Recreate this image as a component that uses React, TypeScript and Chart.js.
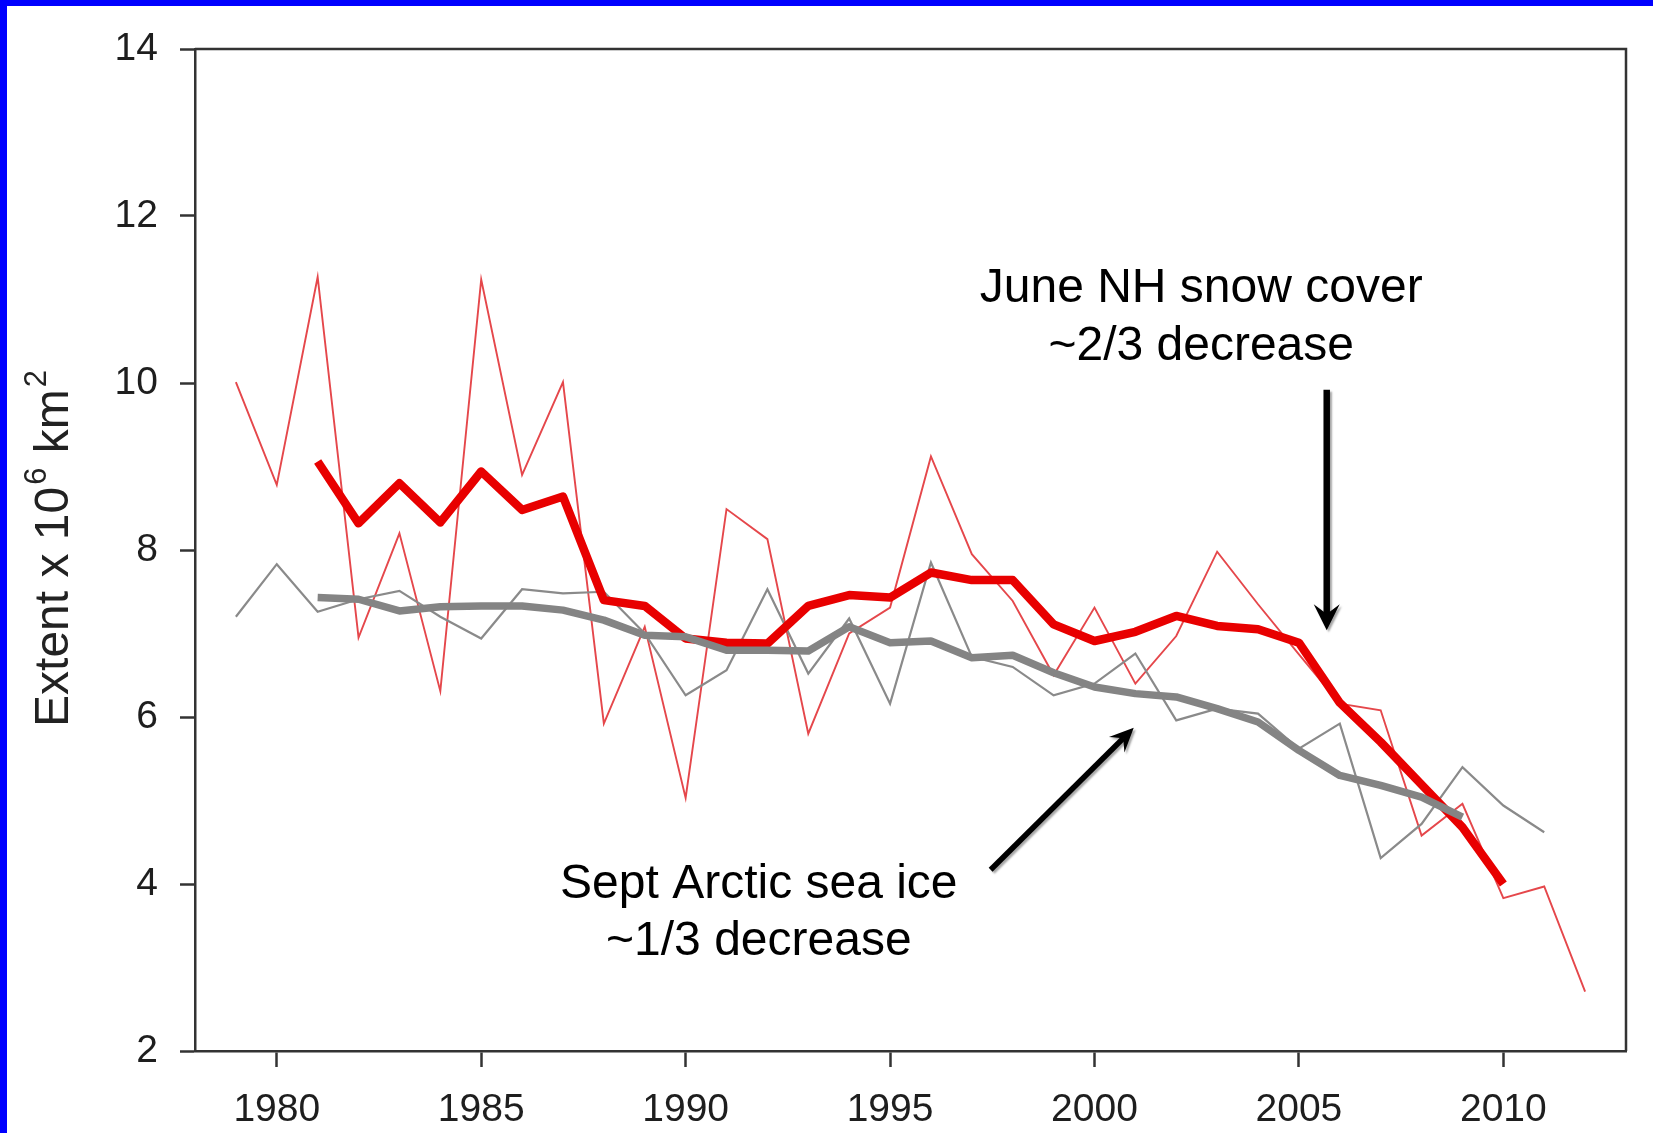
import React, { useEffect, useRef } from "react";
import { Chart, registerables } from "chart.js";

Chart.register(...registerables);

// ---- Data ----
const xTicks = [1980, 1985, 1990, 1995, 2000, 2005, 2010];
const yTicks = [2, 4, 6, 8, 10, 12, 14];

// June NH snow cover (annual, thin red)
const snowYears = [1979, 1980, 1981, 1982, 1983, 1984, 1985, 1986, 1987, 1988, 1989, 1990, 1991, 1992, 1993, 1994, 1995, 1996, 1997, 1998, 1999, 2000, 2001, 2002, 2003, 2004, 2005, 2006, 2007, 2008, 2009, 2010, 2011, 2012];
const snowValues = [10.01, 8.78, 11.27, 6.95, 8.2, 6.31, 11.24, 8.9, 10.01, 5.92, 7.08, 5.03, 8.49, 8.13, 5.8, 7.0, 7.31, 9.12, 7.95, 7.39, 6.5, 7.31, 6.4, 6.97, 7.98, 7.35, 6.75, 6.16, 6.08, 4.58, 4.96, 3.83, 3.97, 2.71];

// June NH snow cover (running mean, thick red)
const snowMeanYears = [1981, 1982, 1983, 1984, 1985, 1986, 1987, 1988, 1989, 1990, 1991, 1992, 1993, 1994, 1995, 1996, 1997, 1998, 1999, 2000, 2001, 2002, 2003, 2004, 2005, 2006, 2007, 2008, 2009, 2010];
const snowMeanValues = [9.06, 8.32, 8.8, 8.33, 8.94, 8.48, 8.64, 7.4, 7.33, 6.94, 6.89, 6.88, 7.33, 7.46, 7.43, 7.73, 7.64, 7.64, 7.11, 6.91, 7.02, 7.21, 7.09, 7.05, 6.89, 6.17, 5.7, 5.19, 4.68, 4.0];

// Sept Arctic sea ice (annual, thin gray)
const iceYears = [1979, 1980, 1981, 1982, 1983, 1984, 1985, 1986, 1987, 1988, 1989, 1990, 1991, 1992, 1993, 1994, 1995, 1996, 1997, 1998, 1999, 2000, 2001, 2002, 2003, 2004, 2005, 2006, 2007, 2008, 2009, 2010, 2011];
const iceValues = [7.2, 7.83, 7.26, 7.41, 7.51, 7.2, 6.94, 7.53, 7.48, 7.5, 7.0, 6.26, 6.56, 7.53, 6.52, 7.18, 6.16, 7.85, 6.72, 6.6, 6.26, 6.4, 6.76, 5.96, 6.1, 6.04, 5.62, 5.92, 4.31, 4.72, 5.4, 4.94, 4.62];

// Sept Arctic sea ice (running mean, thick gray)
const iceMeanYears = [1981, 1982, 1983, 1984, 1985, 1986, 1987, 1988, 1989, 1990, 1991, 1992, 1993, 1994, 1995, 1996, 1997, 1998, 1999, 2000, 2001, 2002, 2003, 2004, 2005, 2006, 2007, 2008, 2009];
const iceMeanValues = [7.43, 7.41, 7.27, 7.32, 7.33, 7.33, 7.28, 7.16, 6.98, 6.96, 6.8, 6.8, 6.79, 7.08, 6.89, 6.91, 6.71, 6.74, 6.53, 6.36, 6.28, 6.24, 6.1, 5.94, 5.6, 5.3, 5.18, 5.04, 4.8];

// Annotations (in data coordinates: year, value)
const snowLabelLines = ["June NH snow cover", "~2/3 decrease"];
const snowLabelPos = { x: 2002.61, y: [10.97, 10.27] };
const snowArrow = { x1: 2005.68, y1: 9.92, x2: 2005.68, y2: 7.04 };
const iceLabelLines = ["Sept Arctic sea ice", "~1/3 decrease"];
const iceLabelPos = { x: 1991.79, y: [3.83, 3.15] };
const iceArrow = { x1: 1997.46, y1: 4.17, x2: 2000.96, y2: 5.87 };

const FONT = '"Liberation Sans", Arial, Helvetica, sans-serif';

function toXY(xs: number[], ys: number[]) {
  return xs.map((x, i) => ({ x, y: ys[i] }));
}

function drawArrow(ctx: CanvasRenderingContext2D, x1: number, y1: number, x2: number, y2: number, lw: number, headLen: number, headW: number) {
  const ang = Math.atan2(y2 - y1, x2 - x1);
  ctx.save();
  ctx.shadowColor = "rgba(0,0,0,0.35)";
  ctx.shadowOffsetX = 2;
  ctx.shadowOffsetY = 2;
  ctx.shadowBlur = 2;
  ctx.strokeStyle = "#000";
  ctx.fillStyle = "#000";
  ctx.lineWidth = lw;
  ctx.lineCap = "butt";
  const bx = x2 - Math.cos(ang) * headLen * 0.6;
  const by = y2 - Math.sin(ang) * headLen * 0.6;
  ctx.beginPath();
  ctx.moveTo(x1, y1);
  ctx.lineTo(bx, by);
  ctx.stroke();
  ctx.translate(x2, y2);
  ctx.rotate(ang);
  ctx.beginPath();
  ctx.moveTo(0, 0);
  ctx.lineTo(-headLen, -headW / 2);
  ctx.lineTo(-headLen * 0.62, 0);
  ctx.lineTo(-headLen, headW / 2);
  ctx.closePath();
  ctx.fill();
  ctx.restore();
}

const decorPlugin = {
  id: "decor",
  afterDraw(chart: any) {
    const ctx: CanvasRenderingContext2D = chart.ctx;
    const { left, right, top, bottom } = chart.chartArea;
    const xs = chart.scales.x;
    const ys = chart.scales.y;

    // frame (top & right)
    ctx.save();
    ctx.strokeStyle = "#333";
    ctx.lineWidth = 2.5;
    ctx.beginPath();
    ctx.moveTo(left, top);
    ctx.lineTo(right, top);
    ctx.lineTo(right, bottom);
    ctx.stroke();
    ctx.restore();

    // Y axis title with superscripts
    ctx.save();
    const parts: [string, boolean][] = [["Extent x 10", false], ["6", true], [" km", false], ["2", true]];
    const mainF = `48px ${FONT}`;
    const supF = `31px ${FONT}`;
    let total = 0;
    for (const [t, sup] of parts) {
      ctx.font = sup ? supF : mainF;
      total += ctx.measureText(t).width + (sup ? 3 : 0);
    }
    const cy = (top + bottom) / 2;
    ctx.translate(68, cy + total / 2 - 2);
    ctx.rotate(-Math.PI / 2);
    ctx.fillStyle = "#222";
    ctx.textAlign = "left";
    ctx.textBaseline = "alphabetic";
    let px = 0;
    for (const [t, sup] of parts) {
      ctx.font = sup ? supF : mainF;
      if (sup) px += 2;
      ctx.fillText(t, px, sup ? -22 : 0);
      px += ctx.measureText(t).width + (sup ? 1 : 0);
    }
    ctx.restore();

    // annotations
    ctx.save();
    ctx.fillStyle = "#000";
    ctx.font = `48px ${FONT}`;
    ctx.textAlign = "center";
    ctx.textBaseline = "alphabetic";
    snowLabelLines.forEach((t, i) => {
      ctx.fillText(t, xs.getPixelForValue(snowLabelPos.x), ys.getPixelForValue(snowLabelPos.y[i]));
    });
    iceLabelLines.forEach((t, i) => {
      ctx.fillText(t, xs.getPixelForValue(iceLabelPos.x), ys.getPixelForValue(iceLabelPos.y[i]));
    });
    ctx.restore();

    drawArrow(
      ctx,
      xs.getPixelForValue(snowArrow.x1), ys.getPixelForValue(snowArrow.y1),
      xs.getPixelForValue(snowArrow.x2), ys.getPixelForValue(snowArrow.y2),
      6.5, 26, 26
    );
    drawArrow(
      ctx,
      xs.getPixelForValue(iceArrow.x1), ys.getPixelForValue(iceArrow.y1),
      xs.getPixelForValue(iceArrow.x2), ys.getPixelForValue(iceArrow.y2),
      5.5, 24, 22
    );
  },
};

export default function App() {
  const ref = useRef<HTMLCanvasElement | null>(null);

  useEffect(() => {
    if (!ref.current) return;
    const tickFont = { family: FONT, size: 39 };
    const chart = new Chart(ref.current, {
      type: "line",
      data: {
        datasets: [
          {
            label: "Sept Arctic sea ice (mean)",
            data: toXY(iceMeanYears, iceMeanValues),
            borderColor: "#848484",
            borderWidth: 7.5,
            borderJoinStyle: "round",
            pointRadius: 0,
            tension: 0,
            order: 0,
          },
          {
            label: "June NH snow cover (mean)",
            data: toXY(snowMeanYears, snowMeanValues),
            borderColor: "#e80000",
            borderWidth: 8.5,
            borderJoinStyle: "round",
            pointRadius: 0,
            tension: 0,
            order: 1,
          },
          {
            label: "Sept Arctic sea ice",
            data: toXY(iceYears, iceValues),
            borderColor: "#8a8a8a",
            borderWidth: 2.2,
            pointRadius: 0,
            tension: 0,
            order: 2,
          },
          {
            label: "June NH snow cover",
            data: toXY(snowYears, snowValues),
            borderColor: "#e5474b",
            borderWidth: 1.9,
            pointRadius: 0,
            tension: 0,
            order: 3,
          },
        ] as any,
      },
      options: {
        responsive: false,
        animation: false,
        devicePixelRatio: 1,
        layout: { padding: { top: 49, right: 27, left: 0, bottom: 0 } },
        plugins: { legend: { display: false }, tooltip: { enabled: false }, title: { display: false } },
        scales: {
          x: {
            type: "linear",
            min: 1978,
            max: 2013,
            afterBuildTicks: (s: any) => {
              s.ticks = xTicks.map((v) => ({ value: v }));
            },
            afterFit: (s: any) => {
              s.height = 82;
            },
            ticks: {
              callback: (v: any) => String(v),
              font: tickFont,
              color: "#1e1e1e",
              padding: 20,
              maxRotation: 0,
              autoSkip: false,
            },
            grid: { drawOnChartArea: false, drawTicks: true, tickLength: 16, tickColor: "#333", tickWidth: 2.5 },
            border: { display: true, color: "#333", width: 2.5 },
          },
          y: {
            type: "linear",
            min: 2,
            max: 14,
            afterBuildTicks: (s: any) => {
              s.ticks = yTicks.map((v) => ({ value: v }));
            },
            afterFit: (s: any) => {
              s.width = 195;
            },
            ticks: {
              callback: (v: any) => String(v),
              font: tickFont,
              color: "#1e1e1e",
              padding: 22,
              autoSkip: false,
            },
            grid: { drawOnChartArea: false, drawTicks: true, tickLength: 15, tickColor: "#333", tickWidth: 2.5 },
            border: { display: true, color: "#333", width: 2.5 },
          },
        },
      } as any,
      plugins: [decorPlugin],
    });
    return () => chart.destroy();
  }, []);

  return (
    <div style={{ position: "fixed", left: 0, top: 0, width: 1653, height: 1133, background: "#fff", overflow: "hidden" }}>
      <div style={{ position: "absolute", left: 0, top: 0, width: 7, height: 1133, background: "#0000ff" }} />
      <div style={{ position: "absolute", left: 0, top: 0, width: 1653, height: 6, background: "#0000ff" }} />
      <canvas ref={ref} width={1653} height={1133} style={{ position: "absolute", left: 0, top: 0, display: "block" }} />
    </div>
  );
}
